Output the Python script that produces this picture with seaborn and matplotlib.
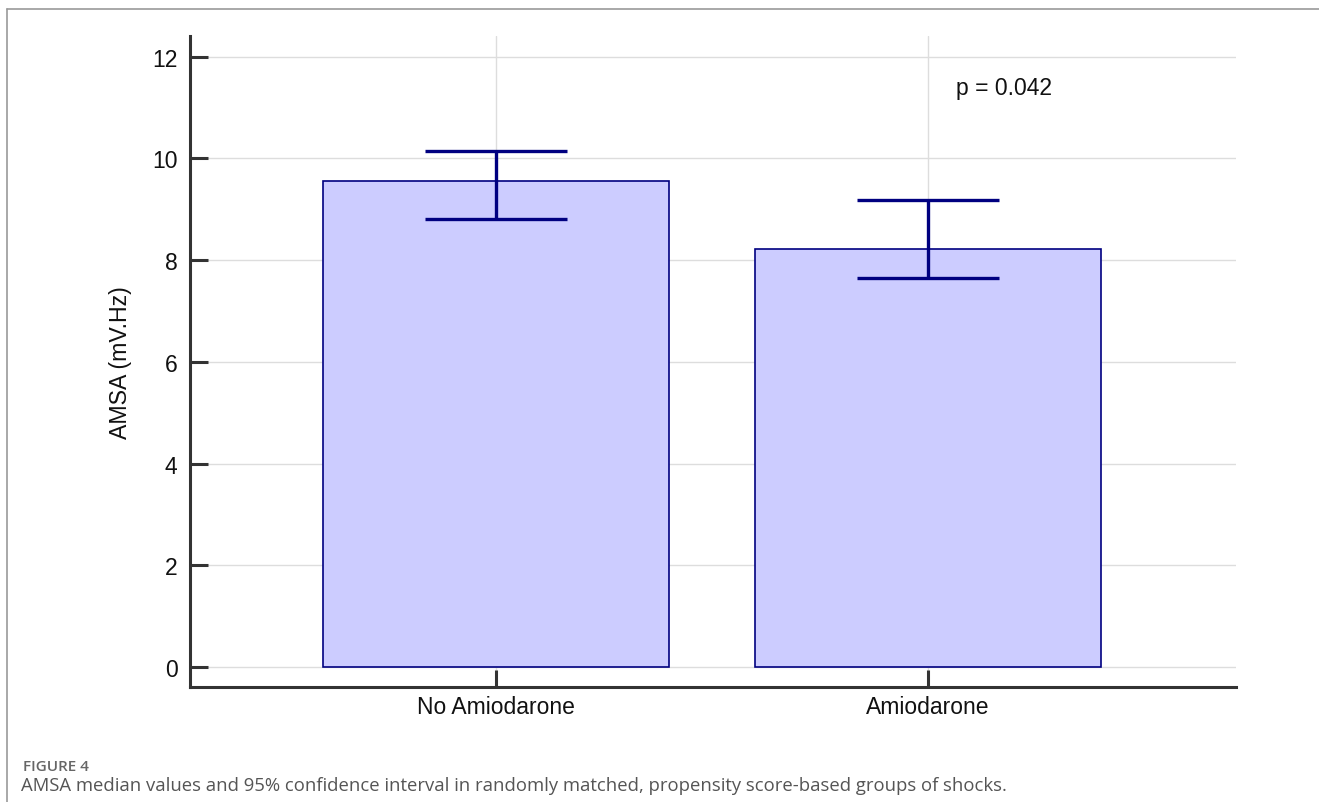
import matplotlib
matplotlib.use("Agg")
import matplotlib.pyplot as plt
import seaborn as sns
import pandas as pd
from matplotlib.lines import Line2D

categories = ["No Amiodarone", "Amiodarone"]
medians = [9.56, 8.22]
ci_low = [8.80, 7.65]
ci_high = [10.14, 9.19]
y_ticks = [0, 2, 4, 6, 8, 10, 12]

sns.set_theme(style="white")
plt.rcParams['font.family'] = ['Liberation Sans', 'DejaVu Sans']

fig = plt.figure(figsize=(13.19, 8.03), dpi=100)
ax = fig.add_axes([0.144, 0.1432, 0.793, 0.811])

df = pd.DataFrame({"group": categories, "value": medians})
sns.barplot(data=df, x="group", y="value", ax=ax, color="#CCCCFF",
            saturation=1, width=0.8, edgecolor="#000080", linewidth=1.2,
            errorbar=None, zorder=2)

xs = list(range(len(categories)))
yerr = [[m - l for m, l in zip(medians, ci_low)], [h - m for m, h in zip(medians, ci_high)]]
ax.errorbar(xs, medians, yerr=yerr, fmt="none", ecolor="#000080",
            elinewidth=2.4, capsize=71 * 72 / 100, capthick=2.4, zorder=3)

ax.set_xlim(-0.708, 1.713)
ax.set_ylim(-0.39, 12.41)
ax.set_yticks(y_ticks)
ax.set_yticklabels([str(t) for t in y_ticks])
ax.grid(True, color="#dddddd", linewidth=1, zorder=0)
ax.set_axisbelow(True)

for s in ["top", "right"]:
    ax.spines[s].set_visible(False)
for s in ["left", "bottom"]:
    ax.spines[s].set_color("#333333")
    ax.spines[s].set_linewidth(2.2)

ax.tick_params(axis="both", direction="in", width=2.2, color="#333333",
               labelsize=16.5, labelcolor="#111111", left=True, bottom=True)
ax.tick_params(axis="x", pad=6, length=12)
ax.tick_params(axis="y", pad=9, length=13)
ax.set_xlabel("")
ax.set_ylabel("AMSA (mV.Hz)", fontsize=16.7, color="#111111", labelpad=14)

ax.text(1.065, 11.39, "p = 0.042", fontsize=16.5, color="#111111", ha="left", va="center")

# figure frame (left and top border)
fig.add_artist(Line2D([7/1319, 7/1319], [0, 1 - 10/803], transform=fig.transFigure,
                      color="#999999", linewidth=1.2))
fig.add_artist(Line2D([7/1319, 1], [1 - 10/803, 1 - 10/803], transform=fig.transFigure,
                      color="#999999", linewidth=1.2))

fig.text(23/1319, 1 - 767/803, "FIGURE 4", fontsize=11, color="#666666", fontweight="semibold",
         family=["Open Sans", "DejaVu Sans"], va="center", ha="left")
fig.text(21/1319, 1 - 786/803,
         "AMSA median values and 95% confidence interval in randomly matched, propensity score-based groups of shocks.",
         fontsize=13.3, color="#555555", family=["Open Sans", "DejaVu Sans"], va="center", ha="left")

fig.savefig("out.png", dpi=100)
